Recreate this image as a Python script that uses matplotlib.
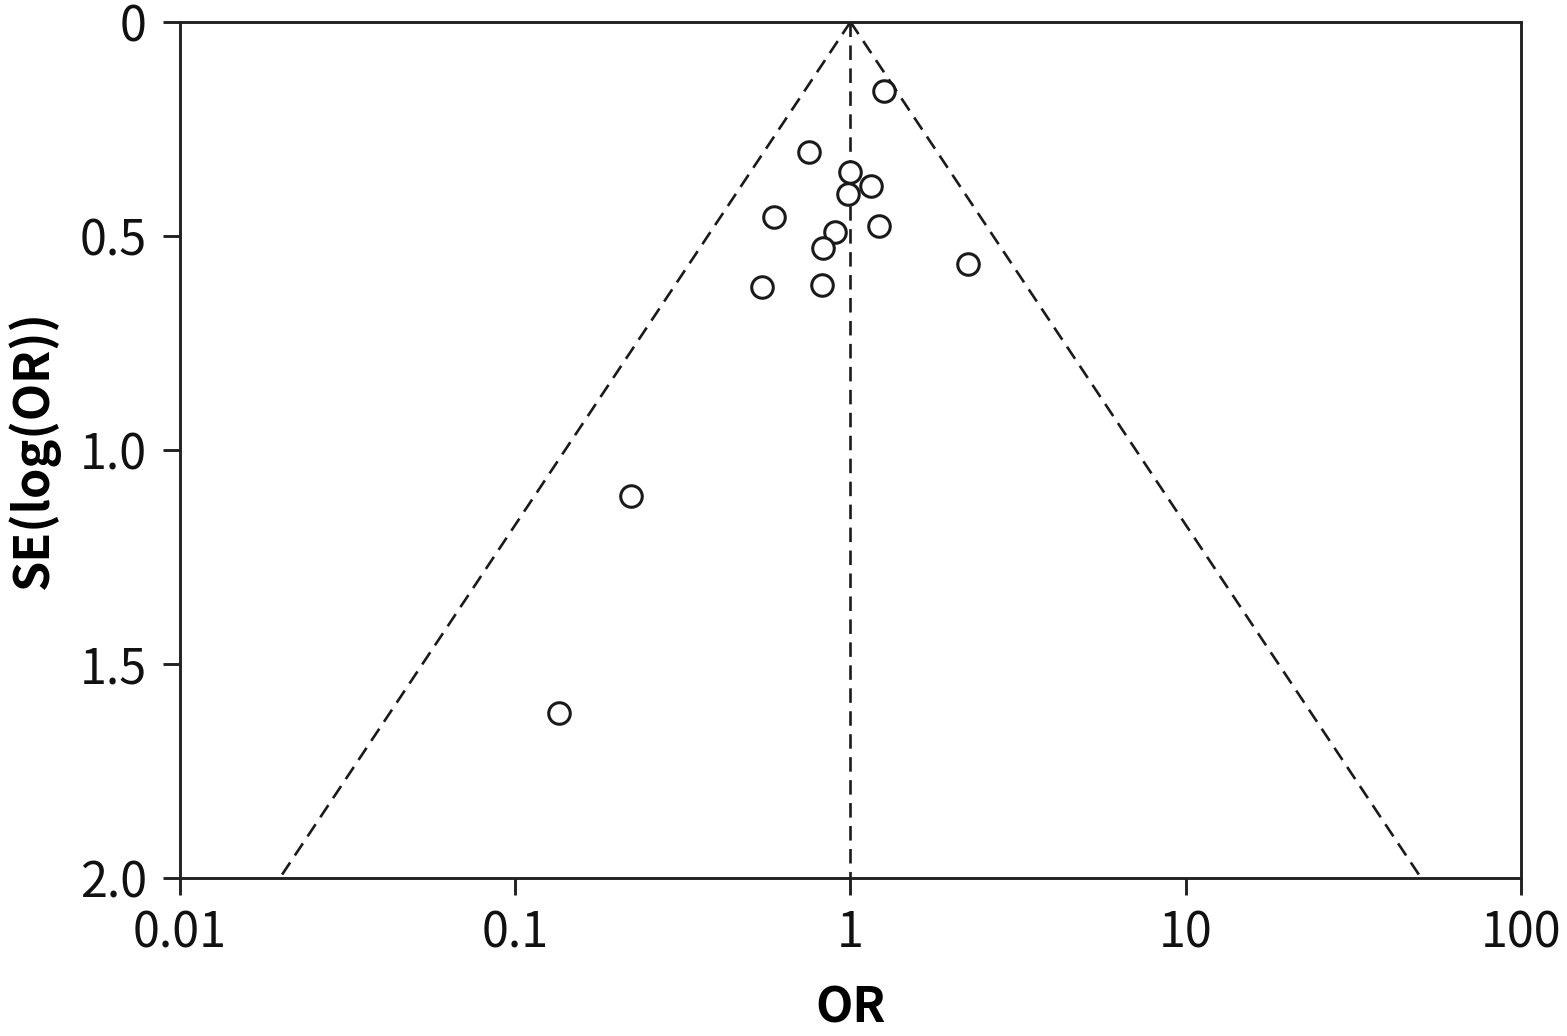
import numpy as np
import matplotlib
matplotlib.use('Agg')
import matplotlib.pyplot as plt

plt.rcParams['font.family'] = ['Noto Sans CJK KR', 'DejaVu Sans']

# study estimates
odds_ratio = [1.26, 0.751, 1.00, 1.15, 0.983, 0.591, 1.22, 0.899, 0.828, 2.24, 0.545, 0.822, 0.221, 0.135]
se_log_or = [0.161, 0.304, 0.350, 0.383, 0.402, 0.456, 0.477, 0.491, 0.528, 0.565, 0.619, 0.614, 1.107, 1.614]
pooled_or = 1.0
x_ticks = [0.01, 0.1, 1, 10, 100]
x_labels = ['0.01', '0.1', '1', '10', '100']
y_ticks = [0, 0.5, 1.0, 1.5, 2.0]
y_labels = ['0', '0.5', '1.0', '1.5', '2.0']

fig = plt.figure(figsize=(15.67, 10.36), dpi=100)
ax = fig.add_axes([0.1149, 0.1525, 0.8557, 0.8263])

# pseudo 95% confidence limits
se_line = np.array([0, 2.0])
lo = np.exp(np.log(pooled_or) - 1.96 * se_line)
hi = np.exp(np.log(pooled_or) + 1.96 * se_line)
dash = dict(color='#1a1a1a', lw=1.9, dashes=(5.5, 3.2))
ax.plot(lo, se_line, **dash)
ax.plot(hi, se_line, **dash)
ax.plot([pooled_or, pooled_or], [0, 2.0], **dash)

ax.plot(odds_ratio, se_log_or, 'o', ms=15.5, mfc='white', mec='#1a1a1a', mew=2.2, ls='none')

ax.set_xscale('log')
ax.set_xlim(0.01, 100)
ax.set_ylim(2.0, 0)
ax.set_xticks(x_ticks)
ax.set_xticklabels(x_labels)
ax.xaxis.set_minor_locator(matplotlib.ticker.NullLocator())
ax.set_yticks(y_ticks)
ax.set_yticklabels(y_labels)

for s in ax.spines.values():
    s.set_linewidth(2.1)
    s.set_color('#222222')
ax.tick_params(direction='out', length=12, width=2.1, color='#222222',
               labelsize=35, labelcolor='#111111')
ax.tick_params(axis='y', pad=12)
ax.tick_params(axis='x', pad=10)
for lab in ax.get_xticklabels() + ax.get_yticklabels():
    lab.set_fontweight('light')

ax.set_xlabel('OR', fontsize=35, fontweight='bold', labelpad=18)
ax.set_ylabel('SE(log(OR))', fontsize=35, fontweight='bold', labelpad=14)

fig.savefig('out.png', dpi=100)
